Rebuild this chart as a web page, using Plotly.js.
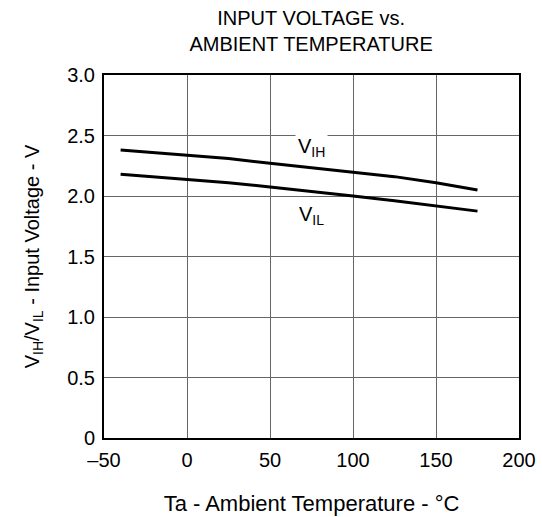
<!DOCTYPE html>
<html>
<head>
<meta charset="utf-8">
<script src="https://cdn.plot.ly/plotly-3.0.1.min.js"></script>
<style>html,body{margin:0;padding:0;background:#fff;}#chart{width:542px;height:517px;}</style>
</head>
<body>
<div id="chart"></div>
<script>
const temperature = [-40, 0, 25, 50, 75, 100, 125, 150, 175];
const vih = [2.38, 2.34, 2.31, 2.27, 2.235, 2.20, 2.16, 2.11, 2.05];
const vil = [2.18, 2.14, 2.11, 2.075, 2.04, 2.00, 1.96, 1.915, 1.875];
const xTickVals = [-50, 0, 50, 100, 150, 200];
const xTickText = ['\u201350', '0', '50', '100', '150', '200'];
const yTickVals = [0, 0.5, 1.0, 1.5, 2.0, 2.5, 3.0];
const yTickText = ['0', '0.5', '1.0', '1.5', '2.0', '2.5', '3.0'];
const labelVIH = {x: 75, y: 2.40, text: 'V<sub>IH</sub>'};
const labelVIL = {x: 75, y: 1.84, text: 'V<sub>IL</sub>'};

const font = 'Liberation Sans, Arial, sans-serif';
const lineStyle = {color: '#000', width: 3};

const traces = [
  {x: temperature, y: vih, mode: 'lines', line: lineStyle, hoverinfo: 'skip', showlegend: false},
  {x: temperature, y: vil, mode: 'lines', line: lineStyle, hoverinfo: 'skip', showlegend: false}
];

const layout = {
  width: 542, height: 517,
  margin: {l: 104, r: 23, t: 75, b: 79},
  paper_bgcolor: '#fff', plot_bgcolor: '#fff',
  font: {family: font, size: 20, color: '#000'},
  title: {
    text: 'INPUT VOLTAGE vs.<br>AMBIENT TEMPERATURE',
    font: {family: font, size: 20, color: '#000'},
    x: 0.574, xanchor: 'center', yref: 'container', y: 0.952, yanchor: 'middle'
  },
  xaxis: {
    range: [-50, 200], tickvals: xTickVals, ticktext: xTickText,
    showgrid: true, gridcolor: '#666', gridwidth: 1,
    showline: true, linecolor: '#000', linewidth: 2, mirror: true,
    zeroline: false, ticks: '', ticklabelstandoff: 3, tickfont: {family: font, size: 20},
    title: {text: 'Ta - Ambient Temperature - \u00b0C', font: {family: font, size: 22}, standoff: 26}
  },
  yaxis: {
    range: [0, 3.0], tickvals: yTickVals, ticktext: yTickText,
    showgrid: true, gridcolor: '#666', gridwidth: 1,
    showline: true, linecolor: '#000', linewidth: 2, mirror: true,
    zeroline: false, ticks: '', ticklabelstandoff: 3, tickfont: {family: font, size: 20},
    title: {text: 'V<sub>IH</sub>/V<sub>IL</sub> - Input Voltage - V', font: {family: font, size: 20}, standoff: 22}
  },
  annotations: [
    {x: labelVIH.x, y: labelVIH.y, text: labelVIH.text, showarrow: false, bgcolor: '#fff',
     font: {family: font, size: 20, color: '#000'}, borderpad: 2},
    {x: labelVIL.x, y: labelVIL.y, text: labelVIL.text, showarrow: false,
     font: {family: font, size: 20, color: '#000'}}
  ]
};

Plotly.newPlot('chart', traces, layout, {staticPlot: true, displayModeBar: false});
</script>
</body>
</html>
